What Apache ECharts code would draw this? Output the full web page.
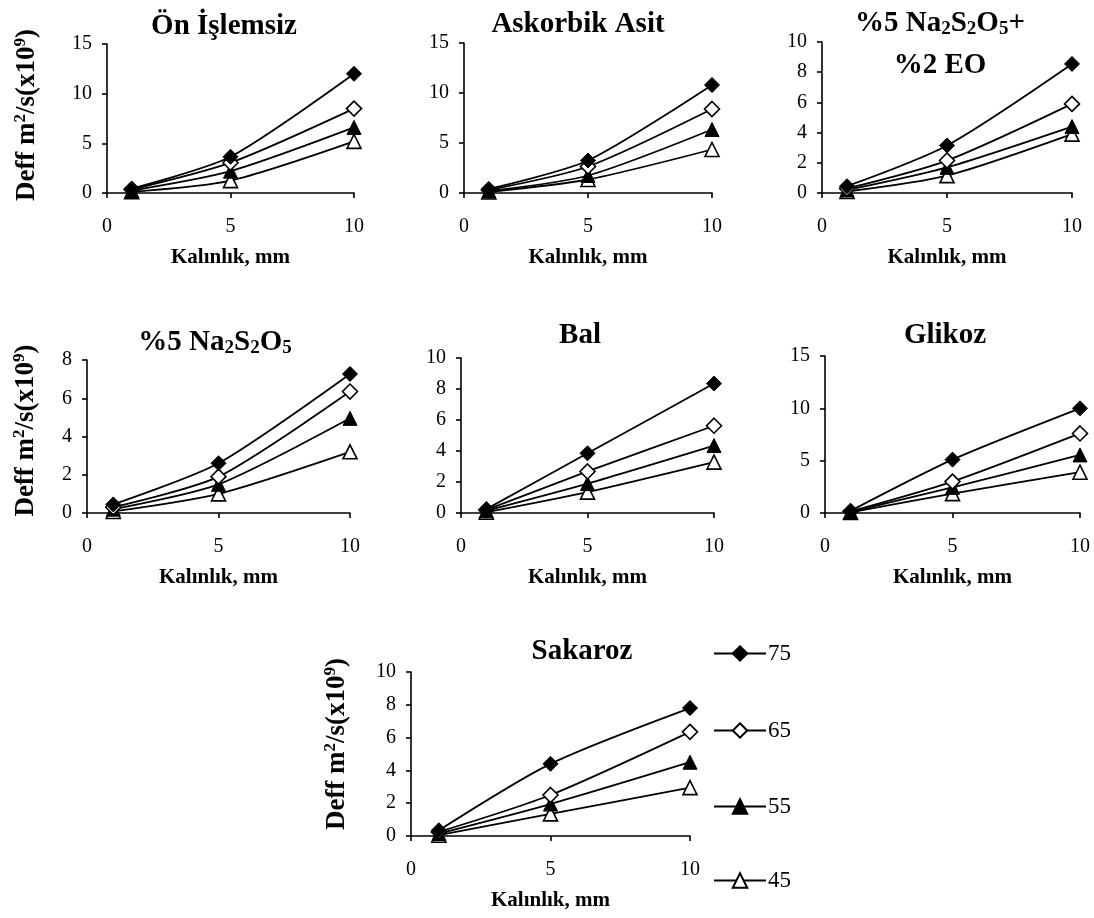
<!DOCTYPE html>
<html><head><meta charset="utf-8">
<script src="https://cdn.jsdelivr.net/npm/echarts@6/dist/echarts.min.js"></script>
<style>html,body{margin:0;padding:0;background:#fff}#c{width:1094px;height:918px}</style>
</head><body><div id="c"></div>
<script>
// ---- data ----
const xValues = [1, 5, 10];
const seriesNames = ['75', '65', '55', '45'];
const xTicks = [0, 5, 10];
// each panel: [75, 65, 55, 45] series, values at x = 1, 5, 10
const onIslemsiz   = [[0.45, 3.65, 12.0], [0.35, 3.05, 8.5], [0.25, 2.2, 6.6], [0.12, 1.25, 5.2]];
const askorbikAsit = [[0.4, 3.25, 10.8], [0.3, 2.65, 8.4], [0.2, 1.75, 6.35], [0.1, 1.35, 4.35]];
const na2s2o5EO    = [[0.45, 3.15, 8.55], [0.3, 2.15, 5.9], [0.2, 1.7, 4.4], [0.1, 1.15, 3.9]];
const na2s2o5      = [[0.45, 2.6, 7.27], [0.3, 1.9, 6.35], [0.2, 1.5, 4.95], [0.08, 1.0, 3.2]];
const bal          = [[0.25, 3.85, 8.35], [0.2, 2.68, 5.63], [0.15, 1.9, 4.35], [0.05, 1.35, 3.28]];
const glikoz       = [[0.2, 5.1, 10.0], [0.15, 3.0, 7.6], [0.1, 2.45, 5.55], [0.05, 1.85, 3.9]];
const sakaroz      = [[0.35, 4.4, 7.8], [0.25, 2.5, 6.35], [0.15, 1.95, 4.5], [0.05, 1.35, 2.95]];
const panelData = [onIslemsiz, askorbikAsit, na2s2o5EO, na2s2o5, bal, glikoz, sakaroz];
const yMaxes = [15, 15, 10, 8, 10, 15, 10];
const yIntervals = [5, 5, 2, 2, 2, 5, 2];
const xAxisTitle = 'Kalınlık, mm';
const yAxisTitle = 'Deff m{sup|2}/s(x10{sup|9})';

// ---- layout ----
const FONT = '"Liberation Serif","Times New Roman",serif';
const grids = [
  {left: 107, top: 44, width: 247, height: 149},
  {left: 464, top: 43, width: 248, height: 150},
  {left: 822, top: 42, width: 250, height: 151},
  {left: 87, top: 360, width: 263, height: 153},
  {left: 461, top: 358, width: 253, height: 155},
  {left: 825, top: 356, width: 255, height: 157},
  {left: 411, top: 672, width: 279, height: 164}
];
const yNameGaps = [65, null, null, 46, null, null, 59];
const yNameShift = [7, 0, 0, 12, 0, 0, 20];

const markerStyles = [
  {symbol: 'diamond', symbolSize: 15, itemStyle: {color: '#000', borderColor: '#000', borderWidth: 1}},
  {symbol: 'diamond', symbolSize: 15, itemStyle: {color: '#fff', borderColor: '#000', borderWidth: 1.6}},
  {symbol: 'triangle', symbolSize: 14, itemStyle: {color: '#000', borderColor: '#000', borderWidth: 1}},
  {symbol: 'triangle', symbolSize: 14, itemStyle: {color: '#fff', borderColor: '#000', borderWidth: 1.6}}
];

const xAxes = [], yAxes = [], series = [];
grids.forEach((g, i) => {
  xAxes.push({
    gridIndex: i, type: 'value', min: 0, max: 10, interval: 5,
    name: xAxisTitle, nameLocation: 'middle', nameGap: 54,
    nameTextStyle: {fontFamily: FONT, fontSize: 21, fontWeight: 'bold', color: '#000'},
    axisLine: {lineStyle: {color: '#000', width: 1.6}},
    axisTick: {show: true, inside: false, length: 5, lineStyle: {color: '#000', width: 1.6}},
    axisLabel: {fontFamily: FONT, fontSize: 20, color: '#000', margin: 24},
    splitLine: {show: false}
  });
  const ya = {
    gridIndex: i, type: 'value', min: 0, max: yMaxes[i], interval: yIntervals[i],
    axisLine: {show: true, lineStyle: {color: '#000', width: 1.6}},
    axisTick: {show: true, inside: false, length: 5, lineStyle: {color: '#000', width: 1.6}},
    axisLabel: {fontFamily: FONT, fontSize: 20, color: '#000', margin: 15},
    splitLine: {show: false}
  };
  if (yNameGaps[i] !== null) {
    Object.assign(ya, {
      name: yAxisTitle, nameLocation: 'middle', nameGap: yNameGaps[i],
      nameTextStyle: {
        fontFamily: FONT, fontSize: 27, fontWeight: 'bold', color: '#000', lineHeight: 30,
        padding: [0, 0, 0, yNameShift[i]],
        rich: {sup: {fontFamily: FONT, fontSize: 17, fontWeight: 'bold', color: '#000', lineHeight: 16, verticalAlign: 'top'}}
      }
    });
  }
  yAxes.push(ya);
  panelData[i].forEach((vals, s) => {
    series.push(Object.assign({
      name: seriesNames[s], type: 'line', xAxisIndex: i, yAxisIndex: i,
      data: xValues.map((x, k) => [x, vals[k]]),
      smooth: 0.25, showAllSymbol: true, clip: false,
      lineStyle: {color: '#000', width: 1.8},
      emphasis: {disabled: true}, silent: true, z: 2 + (3 - s)
    }, markerStyles[s]));
  });
});

const legendCenters = [655, 732, 808, 882];
const legends = seriesNames.map((n, k) => ({
  data: [n], orient: 'vertical', left: 713, top: legendCenters[k] - 13,
  itemWidth: 52, itemHeight: 18, itemGap: 0, padding: 0, selectedMode: false,
  textStyle: {fontFamily: FONT, fontSize: 23, color: '#000', padding: [0, 0, 0, -3]}
}));

function titleText(text, x, y) {
  return {
    type: 'text', x: x, y: y,
    style: {
      text: text, fontFamily: FONT, fontSize: 29, fontWeight: 'bold', fill: '#000',
      align: 'center', verticalAlign: 'middle', lineHeight: 30,
      rich: {sub: {fontFamily: FONT, fontSize: 19, fontWeight: 'bold', fill: '#000', lineHeight: 20, verticalAlign: 'bottom'}}
    }
  };
}
const titles = [
  ['Ön İşlemsiz', 224, 27],
  ['Askorbik Asit', 578, 25],
  ['%5 Na{sub|2}S{sub|2}O{sub|5}+', 940, 24],
  ['%2 EO', 940, 66],
  ['%5 Na{sub|2}S{sub|2}O{sub|5}', 215, 343],
  ['Bal', 580, 336],
  ['Glikoz', 945, 336],
  ['Sakaroz', 582, 652]
];

const chart = echarts.init(document.getElementById('c'), null, {renderer: 'canvas'});
chart.setOption({
  animation: false,
  backgroundColor: '#fff',
  grid: grids,
  xAxis: xAxes,
  yAxis: yAxes,
  legend: legends,
  series: series,
  graphic: titles.map(t => titleText(t[0], t[1], t[2]))
});
</script></body></html>
